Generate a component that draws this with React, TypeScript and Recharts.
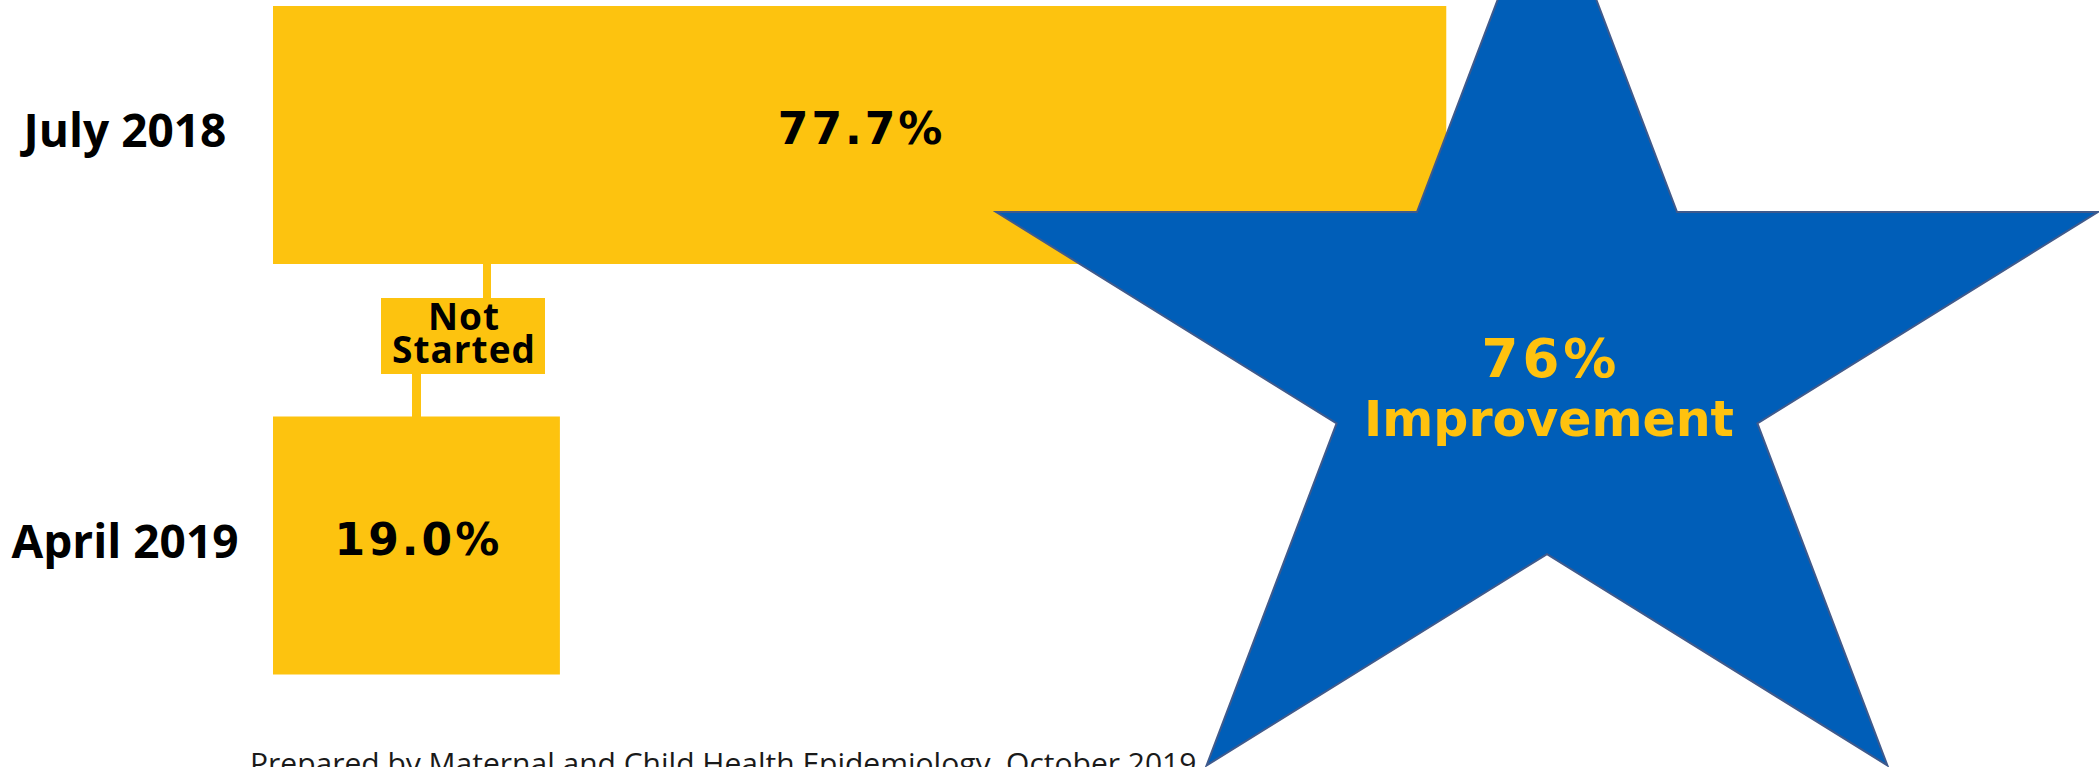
import { Bar, BarChart, LabelList, XAxis, YAxis } from "recharts";

// values
const periods = ["July 2018", "April 2019"];
const percentNotStarted = [77.7, 19.0];
const improvementText = ["76%", "Improvement"];
const annotationLines = ["Not", "Started"];
const sourceNote =
  "Prepared by Maternal and Child Health Epidemiology, October 2019";

const data = periods.map((period, i) => ({
  period,
  value: percentNotStarted[i],
}));

const YELLOW = "#FDC30F";
const BLUE = "#005EB8";

function PeriodTick({ y, payload }: any) {
  return (
    <text
      x={125}
      y={y + 12}
      textAnchor="middle"
      fontFamily="'Open Sans', sans-serif"
      fontWeight={700}
      fontSize={46}
      fill="#000"
    >
      {payload.value}
    </text>
  );
}

function ValueLabel({ x, y, width, height, value }: any) {
  return (
    <text
      x={x + width / 2 + 2}
      y={y + height / 2 + 9}
      textAnchor="middle"
      fontFamily="'DejaVu Sans', sans-serif"
      fontWeight={700}
      fontSize={44}
      letterSpacing={3}
      fill="#000"
    >
      {`${Number(value).toFixed(1)}%`}
    </text>
  );
}

// horizontally stretched five point star
function starPoints(cx: number, cy: number, R: number, sx: number) {
  const r = R * 0.382;
  const pts: string[] = [];
  for (let k = 0; k < 10; k++) {
    const a = ((-90 + 36 * k) * Math.PI) / 180;
    const rad = k % 2 === 0 ? R : r;
    pts.push(`${cx + rad * Math.cos(a) * sx},${cy + rad * Math.sin(a)}`);
  }
  return pts.join(" ");
}

export default function App() {
  return (
    <div
      style={{
        position: "absolute",
        left: 0,
        top: 0,
        width: 2099,
        height: 767,
        overflow: "hidden",
        background: "#fff",
      }}
    >
      <div style={{ position: "absolute", left: 0, top: -70 }}>
        <BarChart
          width={2099}
          height={821}
          data={data}
          layout="vertical"
          barSize={258}
          margin={{ top: 0, right: 316, bottom: 0, left: 0 }}
        >
          <XAxis type="number" domain={[0, 100]} hide />
          <YAxis
            type="category"
            dataKey="period"
            width={273}
            axisLine={false}
            tickLine={false}
            tick={<PeriodTick />}
          />
          <Bar dataKey="value" fill={YELLOW} isAnimationActive={false}>
            <LabelList dataKey="value" content={<ValueLabel />} />
          </Bar>
        </BarChart>
      </div>
      <svg
        width={2099}
        height={767}
        style={{ position: "absolute", left: 0, top: 0, pointerEvents: "none" }}
      >
        <text
          x={250}
          y={774}
          fontFamily="'Open Sans', sans-serif"
          fontSize={30}
          fill="#1a1a1a"
        >
          {sourceNote}
        </text>
        <rect x={483} y={262} width={8} height={38} fill={YELLOW} />
        <rect x={412} y={372} width={9} height={46} fill={YELLOW} />
        <rect x={381} y={298} width={164} height={76} fill={YELLOW} />
        {annotationLines.map((t, i) => (
          <text
            key={t}
            x={464}
            y={330 + i * 33}
            textAnchor="middle"
            fontFamily="'Open Sans', sans-serif"
            fontWeight={700}
            fontSize={37}
            letterSpacing={1}
            fill="#000"
          >
            {t}
          </text>
        ))}
        <polygon
          points={starPoints(1547, 365, 495, 1.17)}
          fill={BLUE}
          stroke="#3F5A8C"
          strokeWidth={2}
        />
        {improvementText.map((t, i) => (
          <text
            key={t}
            x={i === 0 ? 1551 : 1549}
            y={377 + i * 59}
            textAnchor="middle"
            fontFamily="'DejaVu Sans', sans-serif"
            fontWeight={700}
            fontSize={i === 0 ? 53 : 49}
            letterSpacing={i === 0 ? 4 : 0}
            fill="#FFC20E"
          >
            {t}
          </text>
        ))}
      </svg>
    </div>
  );
}
